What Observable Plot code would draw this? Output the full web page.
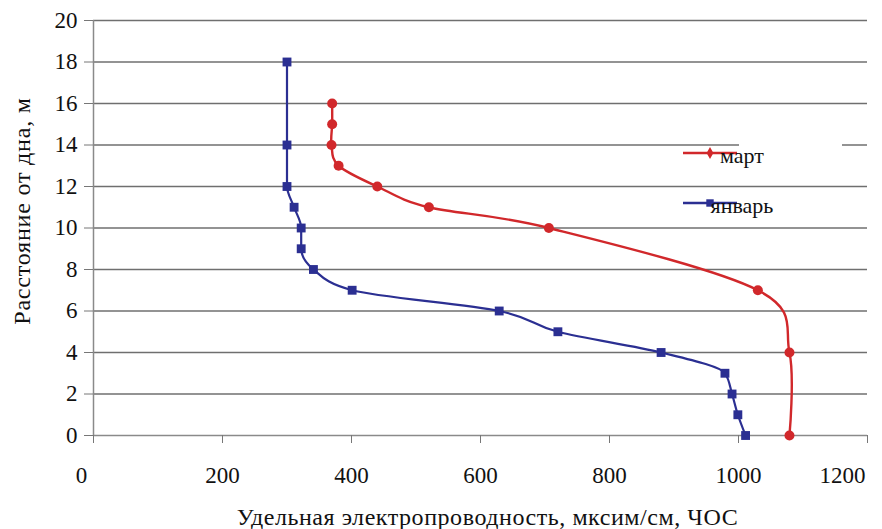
<!DOCTYPE html>
<html><head><meta charset="utf-8">
<script src="https://cdn.jsdelivr.net/npm/d3@7"></script>
<script src="https://cdn.jsdelivr.net/npm/@observablehq/plot@0.6"></script>
<style>body{margin:0;background:#fff} svg text{font-family:"Liberation Serif","DejaVu Serif","Noto Serif",serif !important}</style>
</head><body><div id="chart"></div>
<script>
const janConductivity = [300,300,300,311,322,322,341,401,629,720,880,979,990,999,1011];
const janDepth        = [18,14,12,11,10,9,8,7,6,5,4,3,2,1,0];
const marConductivity = [370,370,369,380,440,520,706,1030,1079,1079];
const marDepth        = [16,15,14,13,12,11,10,7,4,0];
const xTicks = [0,200,400,600,800,1000,1200];
const yTicks = [0,2,4,6,8,10,12,14,16,18,20];
const seriesNames = ["март","январь"];
const xTitle = "Удельная электропроводность, мксим/см, ЧОС";
const yTitle = "Расстояние от дна, м";

const RED = "#d1282b", BLUE = "#2b2f92";
const jan = janConductivity.map((x,i)=>({x, y: janDepth[i]}));
const mar = marConductivity.map((x,i)=>({x, y: marDepth[i]}));
const font = "Liberation Serif, DejaVu Serif, serif";
const axStyle = {stroke: "#777", fill: "#111", fontSize: 23};
const mid = xTicks.slice(1, -1);
const fmt = d => String(d);

const plot = Plot.plot({
  width: 882, height: 529,
  marginLeft: 93, marginRight: 15, marginTop: 20, marginBottom: 94,
  style: {fontFamily: font, background: "#fff"},
  x: {domain: [0,1200], axis: null},
  y: {domain: [0,20], axis: null},
  marks: [
    Plot.gridY(yTicks.filter(d=>d>0), {stroke: "#6f6f6f", strokeOpacity: 1, strokeWidth: 1.6}),
    Plot.ruleY([0], {stroke: "#8a8a8a", strokeWidth: 1.5}),
    Plot.ruleX([0], {stroke: "#8a8a8a", strokeWidth: 1.5}),
    Plot.axisX(xTicks, {tickSize: 8, stroke: "#777", tickFormat: () => "", label: null}),
    Plot.axisX(mid, {...axStyle, tickSize: 0, tickPadding: 31, tickFormat: fmt, label: null}),
    Plot.axisX([xTicks[0]], {...axStyle, tickSize: 0, tickPadding: 31, dx: -12, tickFormat: fmt, label: null}),
    Plot.axisX([xTicks[xTicks.length-1]], {...axStyle, tickSize: 0, tickPadding: 31, dx: -25, tickFormat: fmt, label: null}),
    Plot.axisY(yTicks, {...axStyle, tickSize: 9, tickPadding: 7, label: null, tickFormat: fmt}),
    Plot.text([xTitle], {frameAnchor: "bottom", textAnchor: "middle", dy: 89, dx: 7, fontSize: 24, fill: "#111"}),
    Plot.text([yTitle], {frameAnchor: "left", textAnchor: "middle", dx: -71, dy: -17, rotate: -90, fontSize: 24, fill: "#111"}),
    Plot.line(mar, {x: "x", y: "y", stroke: RED, strokeWidth: 2.4, curve: "cardinal", tension: 0}),
    Plot.dot(mar, {x: "x", y: "y", fill: RED, r: 5, symbol: "circle"}),
    Plot.line(jan, {x: "x", y: "y", stroke: BLUE, strokeWidth: 2.2, curve: "monotone-y"}),
    Plot.dot(jan, {x: "x", y: "y", fill: BLUE, r: 5, symbol: "square"})
  ]
});
document.getElementById("chart").appendChild(plot);

// letter spacing for titles
d3.select(plot).selectAll("text").filter(function(){ return this.textContent === xTitle; }).attr("letter-spacing", 0.55);
d3.select(plot).selectAll("text").filter(function(){ return this.textContent === yTitle; }).attr("letter-spacing", 0.8);

// legend
const svg = d3.select(plot);
const g = svg.append("g");
g.append("rect").attr("x", 739).attr("y", 140).attr("width", 103).attr("height", 8).attr("fill", "#fff");
const items = [{name: seriesNames[0], color: RED, y: 153, sym: d3.symbolDiamond, size: 40},
               {name: seriesNames[1], color: BLUE, y: 203, sym: d3.symbolSquare, size: 55}];
for (const it of items) {
  g.append("line").attr("x1", 683).attr("x2", 737).attr("y1", it.y).attr("y2", it.y)
    .attr("stroke", it.color).attr("stroke-width", 2.4);
  g.append("path").attr("d", d3.symbol(it.sym, it.size)()).attr("transform", `translate(710,${it.y})`).attr("fill", it.color);
  g.append("text").attr("x", 742).attr("y", it.y + 10).attr("font-size", 22).attr("fill", "#111").text(it.name);
}
</script></body></html>
